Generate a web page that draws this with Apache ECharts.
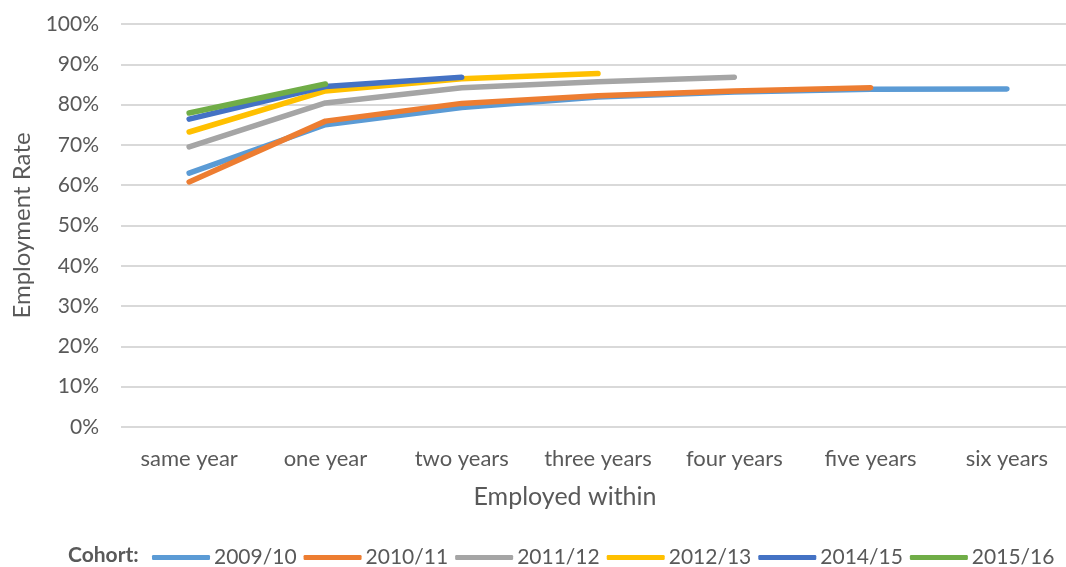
<!DOCTYPE html>
<html>
<head>
<meta charset="utf-8">
<script src="https://cdn.jsdelivr.net/npm/echarts@6/dist/echarts.min.js"></script>
<style>
  html, body { margin: 0; padding: 0; background: #fff; }
  #myChart { width: 1066px; height: 567px; }
</style>
</head>
<body>
<div id="myChart"></div>
<script>
var categories = ["same year", "one year", "two years", "three years", "four years", "five years", "six years"];
var cohorts = ["2009/10", "2010/11", "2011/12", "2012/13", "2014/15", "2015/16"];
var rate0910 = [63.0, 75.0, 79.3, 81.9, 83.1, 83.8, 83.9];
var rate1011 = [60.8, 75.9, 80.3, 82.2, 83.4, 84.2];
var rate1112 = [69.5, 80.4, 84.2, 85.7, 86.8];
var rate1213 = [73.2, 83.4, 86.4, 87.7];
var rate1415 = [76.4, 84.5, 86.8];
var rate1516 = [77.9, 85.1];
var colors = ["#5B9BD5", "#ED7D31", "#A5A5A5", "#FFC000", "#4472C4", "#70AD47"];
var yTicks = [0, 10, 20, 30, 40, 50, 60, 70, 80, 90, 100];

var font = "Lato, sans-serif";

window.addEventListener("load", () => {
    var myChart = echarts.init(document.getElementById("myChart"));
    var rates = [rate0910, rate1011, rate1112, rate1213, rate1415, rate1516];
    var series = [];
    for (var i = 0; i < cohorts.length; i++) {
        series.push({
            name: cohorts[i],
            type: "line",
            data: rates[i],
            showSymbol: false,
            symbol: "none",
            lineStyle: { width: 5.5, color: colors[i], cap: "round", join: "round" },
            itemStyle: { color: colors[i] },
        });
    }
    var option = {
        animation: false,
        textStyle: { fontFamily: font },
        grid: { left: 121, width: 954, top: 24, height: 403, outerBoundsMode: "none" },
        graphic: [
            {
                type: "text",
                left: 68,
                top: 545,
                style: { text: "Cohort:", font: "bold 21px " + font, fill: "#595959" },
            },
        ],
        legend: {
            left: 147,
            top: 542,
            icon: "roundRect",
            itemWidth: 58,
            itemHeight: 5,
            itemGap: 7,
            textStyle: { color: "#595959", fontSize: 21, fontFamily: font, padding: [0, 0, 0, -1] },
            data: cohorts,
        },
        xAxis: {
            type: "category",
            data: categories,
            boundaryGap: true,
            axisLine: { show: false },
            axisTick: { show: false },
            axisLabel: { color: "#595959", fontSize: 22, margin: 21, fontFamily: font, interval: 0 },
            name: "Employed within",
            nameLocation: "middle",
            nameGap: 57,
            nameTextStyle: { color: "#595959", fontSize: 25, fontFamily: font, padding: [0, 66, 0, 0] },
        },
        yAxis: {
            type: "value",
            min: yTicks[0],
            max: yTicks[yTicks.length - 1],
            interval: 10,
            axisLabel: { formatter: "{value}%", color: "#595959", fontSize: 21, margin: 22, fontFamily: font },
            splitLine: { lineStyle: { color: "#D9D9D9", width: 2 } },
            axisLine: { show: false },
            axisTick: { show: false },
            name: "Employment Rate",
            nameLocation: "middle",
            nameGap: 87,
            nameRotate: 90,
            nameTextStyle: { color: "#595959", fontSize: 24, fontFamily: font },
        },
        series: series,
    };
    myChart.setOption(option);
});
</script>
</body>
</html>
